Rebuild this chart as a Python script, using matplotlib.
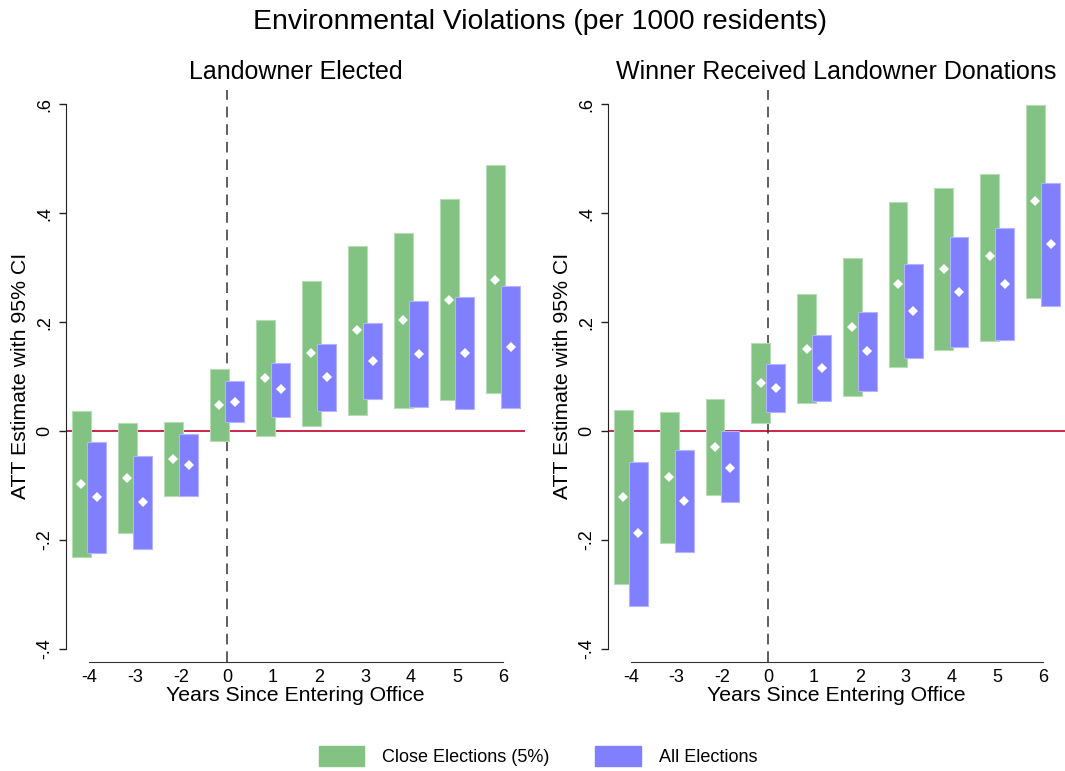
import matplotlib
matplotlib.use("Agg")
import matplotlib.pyplot as plt
import numpy as np

plt.rcParams['font.family'] = ['Liberation Sans', 'DejaVu Sans']

# event time labels (categorical positions)
years = ['-4', '-3', '-2', '0', '1', '2', '3', '4', '5', '6']

# Landowner Elected
left_close_est = [-0.098, -0.086, -0.051, 0.048, 0.097, 0.143, 0.185, 0.203, 0.241, 0.278]
left_close_lo = [-0.232, -0.187, -0.119, -0.018, -0.009, 0.009, 0.030, 0.043, 0.057, 0.069]
left_close_hi = [0.036, 0.015, 0.017, 0.113, 0.204, 0.276, 0.340, 0.363, 0.425, 0.488]
left_all_est = [-0.122, -0.131, -0.062, 0.054, 0.077, 0.099, 0.128, 0.141, 0.143, 0.155]
left_all_lo = [-0.223, -0.217, -0.119, 0.017, 0.026, 0.037, 0.059, 0.045, 0.040, 0.043]
left_all_hi = [-0.021, -0.045, -0.006, 0.092, 0.125, 0.160, 0.198, 0.238, 0.246, 0.267]

# Winner Received Landowner Donations
right_close_est = [-0.121, -0.084, -0.029, 0.088, 0.151, 0.191, 0.270, 0.298, 0.321, 0.422]
right_close_lo = [-0.281, -0.206, -0.117, 0.014, 0.051, 0.064, 0.118, 0.148, 0.166, 0.244]
right_close_hi = [0.039, 0.035, 0.059, 0.162, 0.251, 0.317, 0.421, 0.447, 0.472, 0.599]
right_all_est = [-0.188, -0.128, -0.067, 0.079, 0.116, 0.146, 0.220, 0.255, 0.270, 0.343]
right_all_lo = [-0.322, -0.222, -0.131, 0.035, 0.056, 0.074, 0.134, 0.154, 0.168, 0.229]
right_all_hi = [-0.056, -0.035, 0.000, 0.123, 0.176, 0.218, 0.306, 0.356, 0.372, 0.455]

yticks = [-0.4, -0.2, 0, 0.2, 0.4, 0.6]
ytick_labels = ['-.4', '-.2', '0', '.2', '.4', '.6']

green = '#82c282'
blue = '#8080ff'
W, H = 1065, 771

fig = plt.figure(figsize=(W / 100, H / 100), dpi=100)


def panel(rect, title, close_est, close_lo, close_hi, all_est, all_lo, all_hi):
    ax = fig.add_axes(rect)
    x = np.arange(len(years))
    off, bw = 0.165, 0.41
    ax.axhline(0, color='#c8143c', lw=1.3, zorder=1)
    ax.axvline(3, color='#333333', lw=1.1, ls=(0, (7, 4.5)), zorder=1)
    lo = np.array(close_lo); hi = np.array(close_hi)
    ax.bar(x - off, hi - lo, bw, bottom=lo, color=green, edgecolor='#b5dcb5', lw=0.8, zorder=2)
    lo = np.array(all_lo); hi = np.array(all_hi)
    ax.bar(x + off, hi - lo, bw, bottom=lo, color=blue, edgecolor='#b3b3ff', lw=0.8, zorder=3)
    ax.plot(x - off, close_est, 'D', color='white', ms=5.5, mew=0, zorder=4)
    ax.plot(x + off, all_est, 'D', color='white', ms=5.5, mew=0, zorder=4)

    ax.set_xlim(-0.5, 9.48)
    ax.set_ylim(-0.424, 0.626)
    ax.set_xticks(x)
    ax.set_xticklabels(years, fontsize=13)
    ax.tick_params(axis='x', length=0, pad=5)
    ax.set_yticks(yticks)
    ax.set_yticklabels(ytick_labels, fontsize=13, rotation=90, va='center')
    ax.tick_params(axis='y', length=5, width=1, color='#222222', pad=4)
    for s in ['top', 'right']:
        ax.spines[s].set_visible(False)
    ax.spines['left'].set_bounds(-0.4, 0.6)
    ax.spines['bottom'].set_bounds(0, 9)
    ax.spines['left'].set_color('#222222')
    ax.spines['bottom'].set_color('#333333')
    ax.set_xlabel('Years Since Entering Office', fontsize=15.3, labelpad=0)
    ax.set_ylabel('ATT Estimate with 95% CI', fontsize=15.3, labelpad=5)
    ax.set_title(title, fontsize=18, pad=8)
    return ax


panel([66 / W, 1 - 662 / H, 459 / W, 572 / H], 'Landowner Elected',
      left_close_est, left_close_lo, left_close_hi, left_all_est, left_all_lo, left_all_hi)
panel([608 / W, 1 - 662 / H, 457 / W, 572 / H], 'Winner Received Landowner Donations',
      right_close_est, right_close_lo, right_close_hi, right_all_est, right_all_lo, right_all_hi)

fig.text(540 / W, 1 - 22 / H, 'Environmental Violations (per 1000 residents)',
         ha='center', va='center', fontsize=20.4)

h1 = plt.Rectangle((0, 0), 1, 1, color=green)
h2 = plt.Rectangle((0, 0), 1, 1, color=blue)
fig.legend([h1, h2], ['Close Elections (5%)', 'All Elections'], loc='center',
           bbox_to_anchor=(538 / W, 1 - 756 / H), ncol=2, frameon=False, fontsize=13,
           handlelength=2.5, handleheight=1.35, handletextpad=1.0, columnspacing=2.55)

fig.savefig('out.png', dpi=100)
